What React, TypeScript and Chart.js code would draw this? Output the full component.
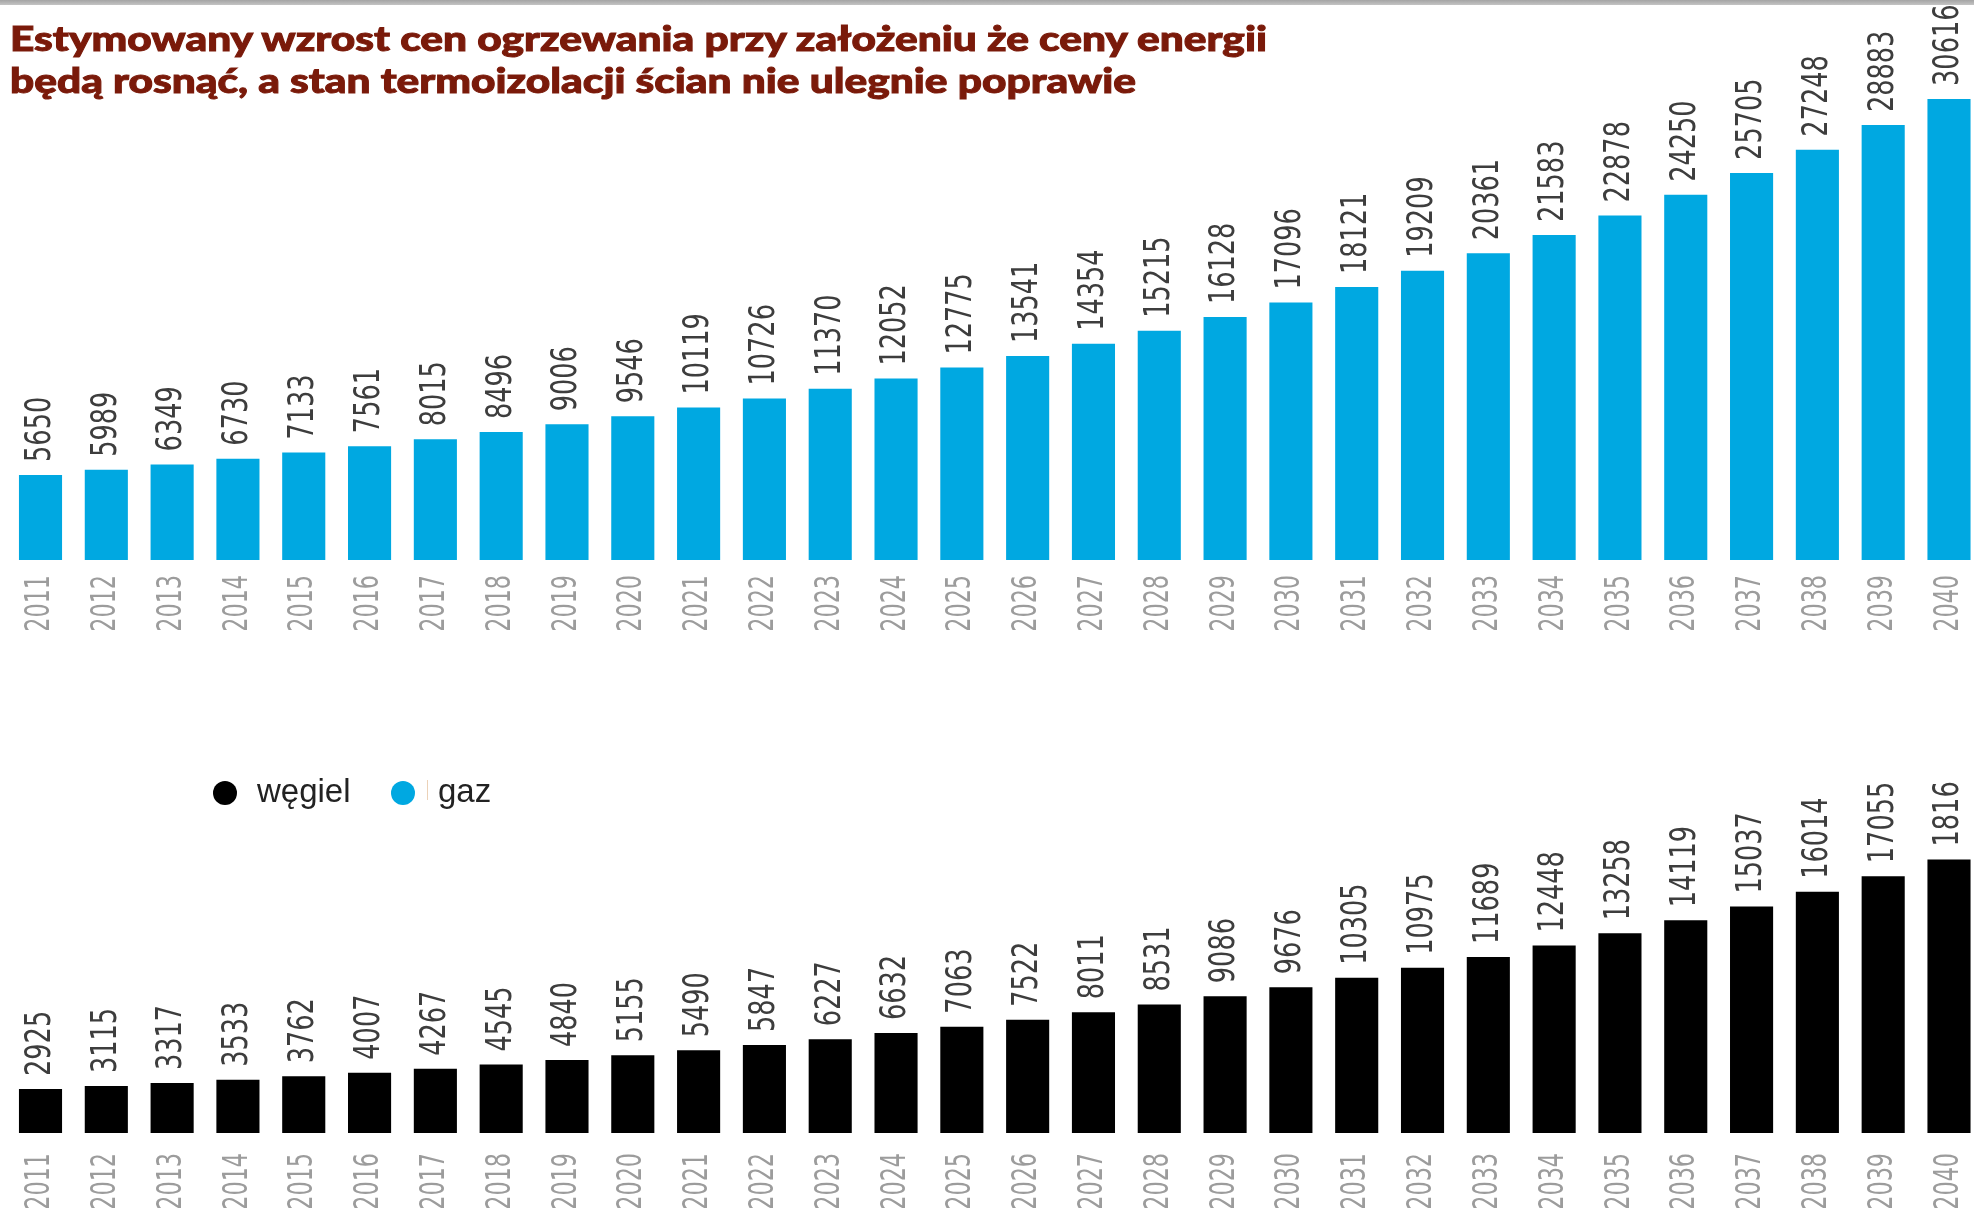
import React, { useEffect, useRef, useState } from "react";
import { Chart, registerables } from "chart.js";

Chart.register(...registerables);

// ---------- data ----------
const years = [
  "2011", "2012", "2013", "2014", "2015", "2016", "2017", "2018", "2019", "2020",
  "2021", "2022", "2023", "2024", "2025", "2026", "2027", "2028", "2029", "2030",
  "2031", "2032", "2033", "2034", "2035", "2036", "2037", "2038", "2039", "2040",
];
const gazValues = [
  5650, 5989, 6349, 6730, 7133, 7561, 8015, 8496, 9006, 9546,
  10119, 10726, 11370, 12052, 12775, 13541, 14354, 15215, 16128, 17096,
  18121, 19209, 20361, 21583, 22878, 24250, 25705, 27248, 28883, 30616,
];
const wegielValues = [
  2925, 3115, 3317, 3533, 3762, 4007, 4267, 4545, 4840, 5155,
  5490, 5847, 6227, 6632, 7063, 7522, 8011, 8531, 9086, 9676,
  10305, 10975, 11689, 12448, 13258, 14119, 15037, 16014, 17055, 18164,
];
const titleLines = [
  "Estymowany wzrost cen ogrzewania przy założeniu że ceny energii",
  "będą rosnąć, a stan termoizolacji ścian nie ulegnie poprawie",
];
const legendItems = [
  { label: "węgiel", color: "#000000" },
  { label: "gaz", color: "#00a8e1" },
];

// ---------- styles ----------
const BLUE = "#00a8e1";
const NARROW = "'Liberation Sans Narrow', 'DejaVu Sans Condensed', 'DejaVu Sans', sans-serif";
const PX_PER_UNIT = 0.01506;
const YEAR_SQUEEZE = 0.75;
const VALUE_SQUEEZE = 0.79;

const valueLabelPlugin = {
  id: "valueLabels",
  afterDatasetsDraw(chart: any, _args: any, opts: any) {
    const ctx = chart.ctx;
    const meta = chart.getDatasetMeta(0);
    const data = chart.data.datasets[0].data;
    ctx.save();
    ctx.font = `${opts.size}px ${NARROW}`;
    ctx.fillStyle = opts.color;
    ctx.textAlign = "left";
    ctx.textBaseline = "middle";
    meta.data.forEach((bar: any, i: number) => {
      ctx.save();
      ctx.translate(bar.x, bar.y - opts.gap);
      ctx.rotate(-Math.PI / 2);
      ctx.scale(VALUE_SQUEEZE, 1);
      ctx.fillText(String(data[i]), 0, 0);
      ctx.restore();
    });
    ctx.restore();
  },
};

// squeeze the x-axis tick labels along their reading direction (condensed look)
const squeezeTicksPlugin = {
  id: "squeezeTicks",
  beforeDraw(chart: any) {
    const sx = chart.scales.x;
    if (!sx || sx.__squeezed) return;
    const orig = sx.drawLabels.bind(sx);
    sx.drawLabels = function (area: any) {
      const ctx = this.ctx;
      const proto = Object.getPrototypeOf(ctx);
      const origFill = proto.fillText;
      ctx.fillText = function (text: string, x: number, y: number) {
        this.save();
        this.scale(YEAR_SQUEEZE, 1);
        origFill.call(this, text, x / YEAR_SQUEEZE, y);
        this.restore();
      };
      try {
        orig(area);
      } finally {
        delete ctx.fillText;
      }
    };
    sx.__squeezed = true;
  },
};

type PanelProps = {
  values: number[];
  color: string;
  yMax: number;
  top: number;
  height: number;
  baseline: number; // y of bar base in page coords
  tickPad: number;
};

const CANVAS_W = 1990;

function BarPanel({ values, color, yMax, top, height, baseline, tickPad }: PanelProps) {
  const ref = useRef<HTMLCanvasElement>(null);
  useEffect(() => {
    const areaBottom = baseline - top;
    const padTop = areaBottom - yMax * PX_PER_UNIT;
    const axisHeight = height - areaBottom;
    const chart = new Chart(ref.current as HTMLCanvasElement, {
      type: "bar",
      data: {
        labels: years,
        datasets: [
          {
            data: values,
            backgroundColor: color,
            barPercentage: 0.655,
            categoryPercentage: 1,
          },
        ],
      },
      options: {
        responsive: false,
        animation: false,
        devicePixelRatio: 1,
        layout: { padding: { top: padTop, left: 7.6, right: 8.1, bottom: 0 } },
        plugins: {
          legend: { display: false },
          tooltip: { enabled: false },
          valueLabels: { size: 36, color: "#3d3d3d", gap: 13 },
        } as any,
        scales: {
          x: {
            grid: { display: false, drawTicks: false },
            border: { display: false },
            ticks: {
              minRotation: 90,
              maxRotation: 90,
              autoSkip: false,
              padding: tickPad,
              color: "#9c9c9c",
              font: { family: NARROW, size: 33 },
            },
            afterFit: (s: any) => {
              s.height = axisHeight;
              s.paddingLeft = 0;
              s.paddingRight = 0;
            },
          },
          y: { display: false, min: 0, max: yMax },
        },
      },
      plugins: [valueLabelPlugin as any, squeezeTicksPlugin as any],
    });
    return () => chart.destroy();
  }, []);
  return (
    <canvas
      ref={ref}
      width={CANVAS_W}
      height={height}
      style={{ position: "absolute", left: 0, top, width: CANVAS_W, height }}
    />
  );
}

function Title() {
  const [scale, setScale] = useState<number>(1);
  const fontSize = 35;
  const weight = 900;
  useEffect(() => {
    const c = document.createElement("canvas").getContext("2d")!;
    c.font = `${weight} ${fontSize}px Lato`;
    const w1 = c.measureText(titleLines[0]).width;
    setScale(1261 / w1);
  }, []);
  return (
    <div
      style={{
        position: "absolute",
        left: 10,
        top: 15.5,
        fontFamily: "Lato",
        fontWeight: weight,
        fontSize,
        lineHeight: "42px",
        color: "#7a1a0a",
        WebkitTextStroke: "1px #7a1a0a",
        whiteSpace: "nowrap",
      }}
    >
      {titleLines.map((t, i) => (
        <div key={i} style={{ transform: `scaleX(${scale})`, transformOrigin: "left center" }}>
          {t}
        </div>
      ))}
    </div>
  );
}

function Legend() {
  const positions = [
    { dot: 225, text: 257 },
    { dot: 403, text: 438 },
  ];
  return (
    <>
      {legendItems.map((it, i) => (
        <React.Fragment key={it.label}>
          <div
            style={{
              position: "absolute",
              left: positions[i].dot - 12,
              top: 793 - 12,
              width: 24,
              height: 24,
              borderRadius: 12,
              background: it.color,
            }}
          />
          <div
            style={{
              position: "absolute",
              left: positions[i].text,
              top: 774,
              fontFamily: "'Liberation Sans', Arial, sans-serif",
              fontSize: 33,
              lineHeight: "33px",
              color: "#222",
              whiteSpace: "nowrap",
            }}
          >
            {it.label}
          </div>
        </React.Fragment>
      ))}
      <div style={{ position: "absolute", left: 427, top: 780, width: 1, height: 20, background: "#ecd2b8" }} />
    </>
  );
}

export default function App() {
  return (
    <div
      style={{
        position: "absolute",
        left: 0,
        top: 0,
        width: 1974,
        height: 1224,
        overflow: "hidden",
        background: "#ffffff",
      }}
    >
      <div
        style={{
          position: "absolute",
          left: 0,
          top: 0,
          width: 1974,
          height: 5,
          background: "linear-gradient(#a4a4a4, #c4c4c4)",
        }}
      />
      <BarPanel values={gazValues} color={BLUE} yMax={36000} top={0} height={660} baseline={560} tickPad={15} />
      <BarPanel values={wegielValues} color="#000000" yMax={20000} top={780} height={444} baseline={1133} tickPad={20} />
      <Title />
      <Legend />
    </div>
  );
}
